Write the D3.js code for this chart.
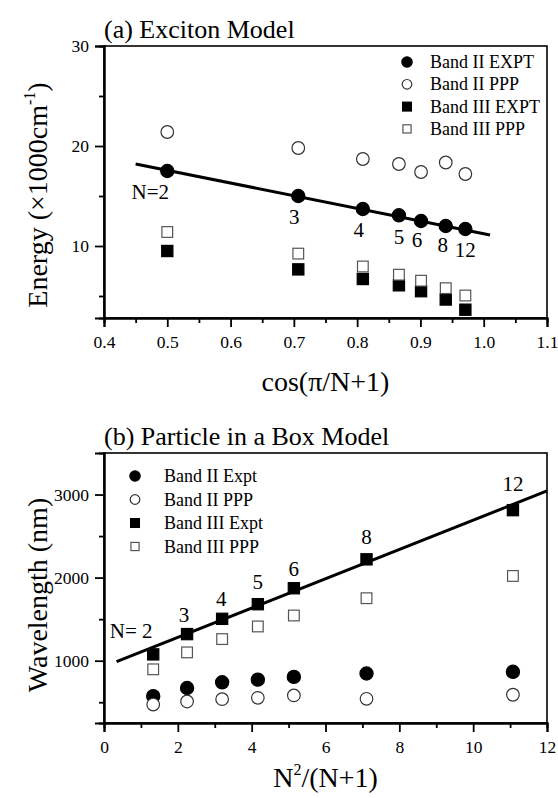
<!DOCTYPE html>
<html>
<head>
<meta charset="utf-8">
<script src="https://cdn.jsdelivr.net/npm/d3@7"></script>
<style>
  body { margin: 0; background: #fff; }
  svg text { font-family: "Liberation Serif", "Times New Roman", serif !important; fill: #000; }
</style>
</head>
<body>
<svg width="558" height="798"></svg>
<script>
// ---- data: panel (a) exciton model ----
const aLabels = ["N=2", "3", "4", "5", "6", "8", "12"];
const aX = [0.5, 0.707, 0.809, 0.866, 0.901, 0.940, 0.971];
const aBand2Expt = [17.5, 15.0, 13.7, 13.07, 12.5, 12.0, 11.7];
const aBand2PPP  = [21.4, 19.8, 18.7, 18.2, 17.4, 18.35, 17.2];
const aBand3Expt = [9.5, 7.66, 6.7, 6.07, 5.48, 4.65, 3.63];
const aBand3PPP  = [11.4, 9.24, 7.95, 7.13, 6.53, 5.78, 5.05];
const aFitX = [0.45, 1.01];
const aFitY = [18.2, 11.1];
const aXTicks = [0.4, 0.5, 0.6, 0.7, 0.8, 0.9, 1.0, 1.1];
const aYTicks = [10, 20, 30];
const aLegend = ["Band II EXPT", "Band II PPP", "Band III EXPT", "Band III PPP"];

// ---- data: panel (b) particle in a box ----
const bLabels = ["N= 2", "3", "4", "5", "6", "8", "12"];
const bX = [1.333, 2.25, 3.2, 4.167, 5.143, 7.111, 11.077];
const bBand2Expt = [573, 671, 740, 772, 805, 846, 866];
const bBand2PPP  = [472, 509, 537, 553, 582, 541, 590];
const bBand3Expt = [1076, 1320, 1504, 1680, 1872, 2220, 2812];
const bBand3PPP  = [896, 1100, 1260, 1412, 1544, 1752, 2020];
const bFitX = [0.34, 12];
const bFitY = [988, 3044];
const bXTicks = [0, 2, 4, 6, 8, 10, 12];
const bYTicks = [1000, 2000, 3000];
const bLegend = ["Band II Expt", "Band II PPP", "Band III Expt", "Band III PPP"];

const svg = d3.select("svg");
const kinds = ["fcircle", "ocircle", "fsquare", "osquare"];

function marker(g, kind, x, y, s) {
  if (kind.endsWith("circle")) {
    g.append("circle").attr("cx", x).attr("cy", y).attr("r", s)
      .attr("fill", kind[0] === "f" ? "#000" : "#fff")
      .attr("stroke", kind[0] === "f" ? "#000" : "#333")
      .attr("stroke-width", 1.2);
  } else {
    const h = s * 0.85;
    g.append("rect").attr("x", x - h).attr("y", y - h)
      .attr("width", 2 * h).attr("height", 2 * h)
      .attr("fill", kind[0] === "f" ? "#000" : "#fff")
      .attr("stroke", kind[0] === "f" ? "#000" : "#555")
      .attr("stroke-width", 1.2);
  }
}

function panel(cfg) {
  const g = svg.append("g");
  const x = d3.scaleLinear().domain(cfg.xDomain).range([cfg.left, cfg.right]);
  const y = d3.scaleLinear().domain(cfg.yDomain).range([cfg.bottom, cfg.top]);

  // frame
  g.append("rect").attr("x", cfg.left).attr("y", cfg.top)
    .attr("width", cfg.right - cfg.left).attr("height", cfg.bottom - cfg.top)
    .attr("fill", "none").attr("stroke", "#000").attr("stroke-width", 1.6);

  // axes
  const xAxis = d3.axisBottom(x).tickValues(cfg.xTicks).tickFormat(cfg.xFmt)
    .tickSize(9).tickPadding(9);
  const xMinor = d3.axisBottom(x).tickValues(cfg.xMinor).tickFormat("").tickSize(5);
  const yAxis = d3.axisLeft(y).tickValues(cfg.yTicks).tickFormat(d3.format("d"))
    .tickSize(9).tickPadding(6);
  const yMinor = d3.axisLeft(y).tickValues(cfg.yMinor).tickFormat("").tickSize(5);

  for (const [ax, tr] of [[xAxis, `translate(0,${cfg.bottom})`], [xMinor, `translate(0,${cfg.bottom})`],
                          [yAxis, `translate(${cfg.left},0)`], [yMinor, `translate(${cfg.left},0)`]]) {
    const a = g.append("g").attr("transform", tr).call(ax);
    a.select(".domain").attr("stroke-width", 2);
    a.selectAll(".tick line").attr("stroke-width", 1.8);
    a.selectAll("text").attr("font-size", 17.5);
  }

  // fit line
  g.append("path")
    .datum(cfg.fitX.map((d, i) => [d, cfg.fitY[i]]))
    .attr("d", d3.line().x(d => x(d[0])).y(d => y(d[1])))
    .attr("fill", "none").attr("stroke", "#000").attr("stroke-width", 3);

  // markers
  cfg.series.forEach((s, k) => {
    s.forEach((v, i) => marker(g, kinds[k], x(cfg.xs[i]), y(v), k % 2 === 0 ? 6.6 : 6.3));
  });

  // N labels
  cfg.labels.forEach((t, i) => {
    g.append("text")
      .attr("x", x(cfg.xs[i]) + cfg.labDx[i])
      .attr("y", y(cfg.anchor[i]) + cfg.labDy[i])
      .attr("text-anchor", "middle").attr("font-size", 21).text(t);
  });

  // legend
  cfg.legend.forEach((t, i) => {
    const ly = cfg.legY + i * cfg.legGap;
    marker(g, kinds[i], cfg.legX, ly, i % 2 === 0 ? 5.2 : 4.8);
    g.append("text").attr("x", cfg.legX + cfg.legText).attr("y", ly + 6)
      .attr("font-size", 18).text(t);
  });

  // title
  g.append("text").attr("x", cfg.left).attr("y", cfg.top - 8)
    .attr("font-size", 26).text(cfg.title);

  // axis titles
  const xt = g.append("text").attr("x", (cfg.left + cfg.right) / 2).attr("y", cfg.xTitleY)
    .attr("text-anchor", "middle").attr("font-size", 28);
  cfg.xTitle(xt);
  const yt = g.append("text")
    .attr("transform", `translate(${cfg.yTitleX},${cfg.yTitleY}) rotate(-90)`)
    .attr("text-anchor", "middle").attr("font-size", 28);
  cfg.yTitle(yt);
}

panel({
  left: 104, right: 547, top: 46, bottom: 318,
  xDomain: [0.4, 1.1], yDomain: [2.8, 30],
  xTicks: aXTicks, xMinor: aXTicks.slice(0, -1).map(d => d + 0.05),
  yTicks: aYTicks, yMinor: [5, 15, 25],
  xFmt: d3.format(".1f"),
  xs: aX, series: [aBand2Expt, aBand2PPP, aBand3Expt, aBand3PPP],
  fitX: aFitX, fitY: aFitY,
  labels: aLabels, anchor: aBand2Expt,
  labDx: [-17, -4, -4, 0, -4, -3, 0], labDy: [28, 28, 28, 29, 26, 26, 28],
  legend: aLegend, legX: 407, legY: 62, legGap: 22.3, legText: 23,
  title: "(a) Exciton Model",
  xTitleY: 391,
  xTitle: t => t.text("cos(\u03c0/N+1)"),
  yTitleX: 47, yTitleY: 195,
  yTitle: t => {
    t.append("tspan").text("Energy (\u00d71000cm");
    t.append("tspan").attr("font-size", 16).attr("dy", -12).text("-1");
    t.append("tspan").attr("dy", 12).text(")");
  }
});

panel({
  left: 104, right: 547, top: 453, bottom: 723,
  xDomain: [0, 12], yDomain: [250, 3500],
  xTicks: bXTicks, xMinor: [1, 3, 5, 7, 9, 11],
  yTicks: bYTicks, yMinor: [500, 1500, 2500],
  xFmt: d3.format("d"),
  xs: bX, series: [bBand2Expt, bBand2PPP, bBand3Expt, bBand3PPP],
  fitX: bFitX, fitY: bFitY,
  labels: bLabels, anchor: bBand3Expt,
  labDx: [-22, -3, -1, 0, 0, 0, 0], labDy: [-16, -12, -13, -15, -12, -15, -19],
  legend: bLegend, legX: 135, legY: 476, legGap: 23.5, legText: 29,
  title: "(b) Particle in a Box Model",
  xTitleY: 787,
  xTitle: t => {
    t.append("tspan").text("N");
    t.append("tspan").attr("font-size", 16).attr("dy", -12).text("2");
    t.append("tspan").attr("dy", 12).text("/(N+1)");
  },
  yTitleX: 47, yTitleY: 595,
  yTitle: t => t.text("Wavelength (nm)")
});
</script>
</body>
</html>
